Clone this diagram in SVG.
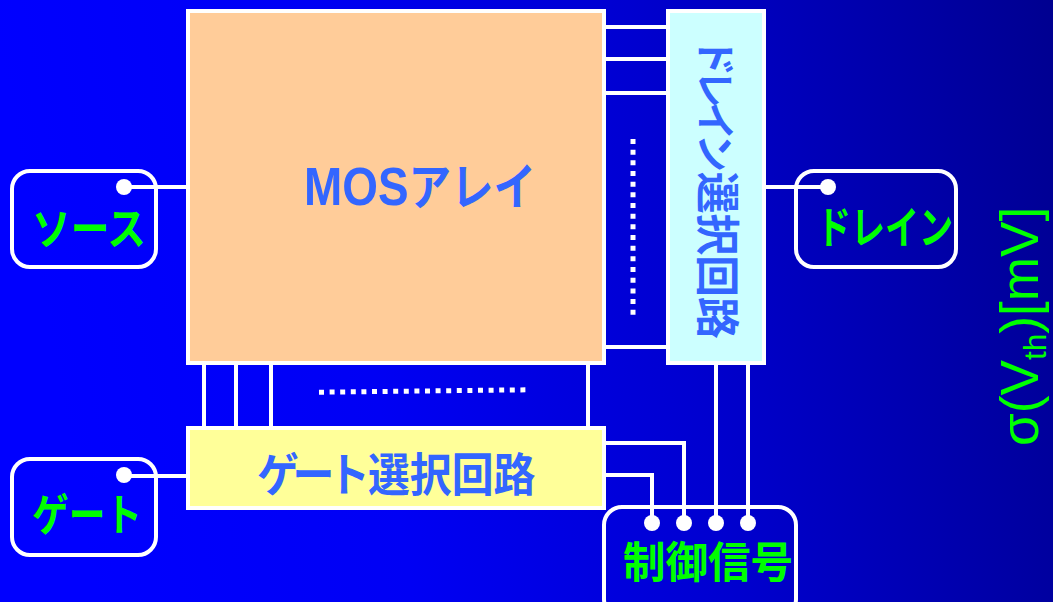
<svg xmlns="http://www.w3.org/2000/svg" width="1053" height="602" viewBox="0 0 1053 602">
<style>
.w{fill:none;stroke:#fff;stroke-width:4}
.box{fill:none;stroke:#fff;stroke-width:4}
.dot{fill:#fff}
.b{font-family:"Noto Sans CJK JP","Liberation Sans",sans-serif;font-weight:700;fill:#3366ff}
.g{font-family:"Noto Sans CJK JP","Liberation Sans",sans-serif;font-weight:700;fill:#00ff00}
.s{font-family:"Liberation Sans",sans-serif;fill:#00ff00}
</style>
<defs>
<linearGradient id="bg" x1="0" y1="0.1" x2="1" y2="0">
<stop offset="0" stop-color="#0000ff"/>
<stop offset="0.3" stop-color="#0000f4"/>
<stop offset="0.6" stop-color="#0000d0"/>
<stop offset="1" stop-color="#000090"/>
</linearGradient>
</defs>
<rect width="1053" height="602" fill="url(#bg)"/>
<g id="connectors">
<path class="w" d="M606 27H668M606 59H668M606 93H668M606 347H668M204 364V428M236 364V428M271 364V428M588 364V428M716 364V522M748 364V522M606 443H684V522M606 475H652V522M124 187H187M124 476H187M766 187H828"/>
<path fill="none" stroke="#fff" stroke-width="5" stroke-dasharray="5 5.67" d="M633 139V316"/>
<path fill="none" stroke="#fff" stroke-width="5" stroke-dasharray="5 5.6" d="M319 392.2L527 389.8"/>
</g>
<g id="mos-array">
<rect x="188" y="11" width="416" height="352" fill="#ffcc99" stroke="#fff" stroke-width="4"/>
<text class="b" transform="translate(304 205) scale(.85 1)" font-size="50"><tspan font-size="54" font-family="Liberation Sans">MOS</tspan>アレイ</text>
</g>
<g id="drain-select">
<rect x="668" y="11" width="96" height="352" fill="#ccffff" stroke="#fff" stroke-width="4"/>
<text class="b" transform="translate(701 38) rotate(90) scale(.95 1)" font-size="44"><tspan font-size="40" letter-spacing="-6.3">ドレイン</tspan><tspan dx="6">選択回路</tspan></text>
</g>
<g id="gate-select">
<rect x="188" y="428" width="416" height="80" fill="#ffff99" stroke="#fff" stroke-width="4"/>
<text class="b" transform="translate(257 491) scale(.91 1)" font-size="46"><tspan letter-spacing="-7">ゲート</tspan><tspan dx="5">選択回路</tspan></text>
</g>
<g id="source">
<rect class="box" x="12" y="171" width="144" height="96" rx="18"/>
<circle class="dot" cx="124" cy="187" r="8"/>
<text class="g" x="32" y="245" font-size="44" textLength="114" lengthAdjust="spacingAndGlyphs">ソース</text>
</g>
<g id="gate">
<rect class="box" x="12" y="459" width="144" height="96" rx="18"/>
<circle class="dot" cx="124" cy="475" r="8"/>
<text class="g" x="32" y="531" font-size="44" textLength="110" lengthAdjust="spacingAndGlyphs">ゲート</text>
</g>
<g id="drain">
<rect class="box" x="796" y="171" width="160" height="96" rx="18"/>
<circle class="dot" cx="828" cy="187" r="8"/>
<text class="g" x="817" y="244" font-size="44" textLength="136" lengthAdjust="spacingAndGlyphs">ドレイン</text>
</g>
<g id="control">
<rect class="box" x="604" y="507" width="192" height="110" rx="18"/>
<circle class="dot" cx="652" cy="523" r="8"/>
<circle class="dot" cx="684" cy="523" r="8"/>
<circle class="dot" cx="716" cy="523" r="8"/>
<circle class="dot" cx="748" cy="523" r="8"/>
<text class="g" x="623" y="578" font-size="43" textLength="170" lengthAdjust="spacingAndGlyphs">制御信号</text>
</g>
<g id="axis-label">
<text class="s" transform="translate(1038 446) rotate(-90) scale(.985 1)" font-size="54">σ(V<tspan font-size="32" dy="8">th</tspan><tspan dy="-8">)[mV]</tspan></text>
</g>
</svg>
